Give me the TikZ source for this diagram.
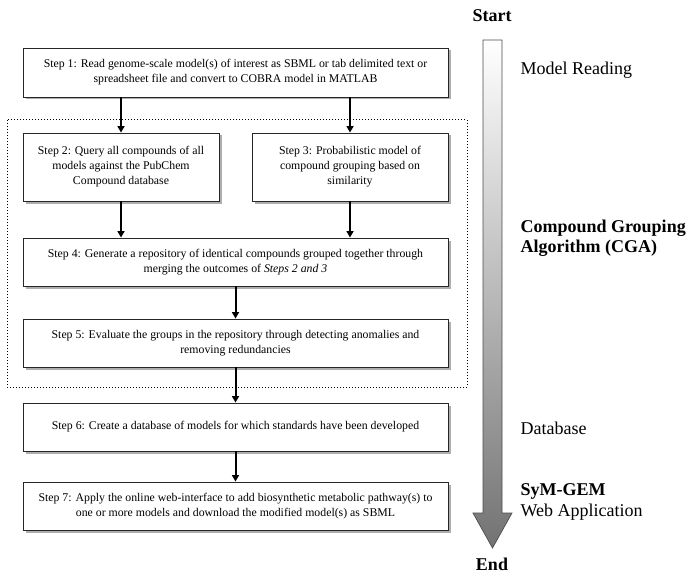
\documentclass[tikz,border=0pt]{standalone}
\usepackage{fontspec}
\setmainfont{Liberation Serif}
\usepackage{tikz}
\usetikzlibrary{arrows.meta,positioning,shadows,calc}
\tikzset{
  stepbox/.style={draw=black!85, line width=0.9pt, fill=white, align=center,
                  inner sep=2pt, font=\fontsize{11.8}{15}\selectfont,
                  drop shadow={shadow xshift=2.5pt, shadow yshift=-2.5pt, fill=black!45, opacity=0.7}},
  widebox/.style={stepbox, minimum width=425pt, minimum height=48pt},
  halfbox/.style={stepbox, minimum width=196pt, minimum height=68pt},
  flow/.style={-{Triangle[length=6.5pt,width=7pt]}, line width=2pt},
  phase/.style={anchor=west, align=left, font=\fontsize{18}{20.5}\selectfont},
  phasebold/.style={phase, font=\fontsize{18}{20.5}\selectfont\bfseries},
  cgaframe/.style={dotted, line width=1pt}
}
\begin{document}
\begin{tikzpicture}[x=1pt, y=-1pt]
  \useasboundingbox (0,0) rectangle (691,575);
  % grouping frame
  \draw[cgaframe] (7,120) rectangle (467,387);
  % steps
  \node[widebox, minimum height=49pt] (s1) at (235.5,72.5)
    {Step 1: Read genome-scale model(s) of interest as SBML or tab delimited text or\\
     spreadsheet file and convert to COBRA model in MATLAB};
  \node[halfbox] (s2) at (121,167)
    {Step 2: Query all compounds of all\\ models against the PubChem\\ Compound database};
  \node[halfbox] (s3) at (350,167)
    {Step 3: Probabilistic model of\\ compound grouping based on\\ similarity};
  \node[widebox] (s4) at (235.5,262)
    {Step 4: Generate a repository of identical compounds grouped together through\\
     merging the outcomes of \textit{Steps 2 and 3}};
  \node[widebox] (s5) at (235.5,343)
    {Step 5: Evaluate the groups in the repository through detecting anomalies and\\
     removing redundancies};
  \node[widebox] (s6) at (235.5,427)
    {Step 6: Create a database of models for which standards have been developed};
  \node[widebox] (s7) at (235.5,506)
    {Step 7: Apply the online web-interface to add biosynthetic metabolic pathway(s) to\\
     one or more models and download the modified model(s) as SBML};
  % connectors
  \draw[flow] (s2.north |- s1.south) -- (s2.north);
  \draw[flow] (s3.north |- s1.south) -- (s3.north);
  \draw[flow] (s2.south) -- (s2.south |- s4.north);
  \draw[flow] (s3.south) -- (s3.south |- s4.north);
  \draw[flow] (s4) -- (s5);
  \draw[flow] (s5) -- (s6);
  \draw[flow] (s6) -- (s7);
  % time line
  \shade[top color=white, bottom color=black!55, draw=black!70, line width=0.7pt]
    (483,40) -- (502,40) -- (502,513) -- (512,513) -- (492.5,548)
    -- (473,513) -- (483,513) -- cycle;
  \node[font=\fontsize{18}{20}\selectfont\bfseries] (start) at (492,16) {Start};
  \node[font=\fontsize{18}{20}\selectfont\bfseries] (end) at (492,564) {End};
  \node[phase] (read) at (517,70) {Model Reading};
  \node[phasebold] (cga) at (517,238) {Compound Grouping\\Algorithm (CGA)};
  \node[phase] (db) at (517,428) {Database};
  \node[phase, font=\fontsize{18}{20.5}\selectfont] (web) at (517,502)
    {\textbf{SyM-GEM}\\Web Application};
\end{tikzpicture}
\end{document}
